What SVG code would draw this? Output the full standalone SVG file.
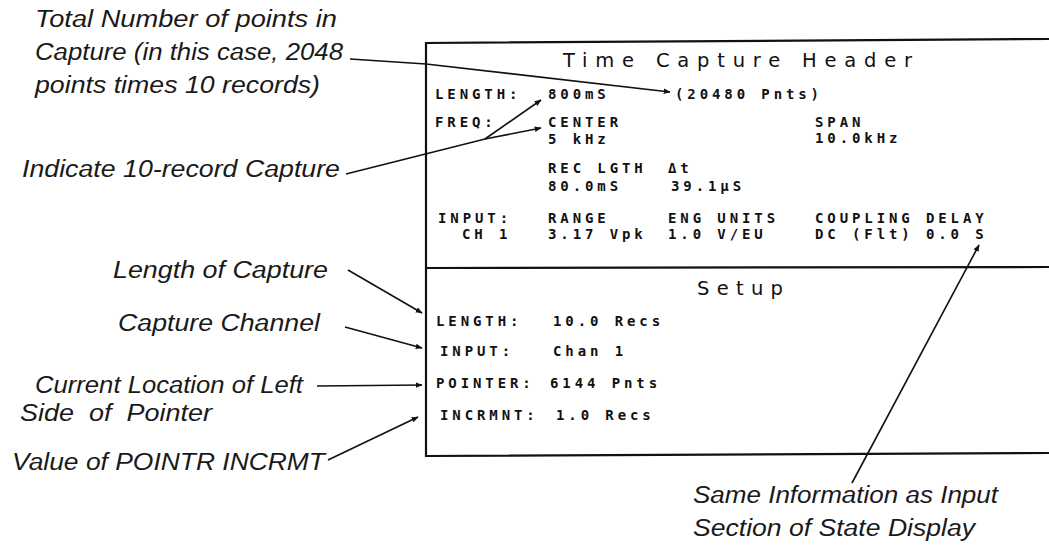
<svg xmlns="http://www.w3.org/2000/svg" width="1049" height="546" viewBox="0 0 1049 546">
<style>
.ann{font-family:"Liberation Sans",Arial,sans-serif;font-style:italic;font-size:23px;fill:#1a1a1a}
.scr{font-family:"DejaVu Sans Mono",monospace;font-size:14px;letter-spacing:3.9px;fill:#111;font-weight:bold}
.ttl{font-family:"DejaVu Sans",sans-serif;font-size:19.5px;fill:#111}
.frame{stroke:#111;stroke-width:2.2;fill:none}
.lead{stroke:#111;stroke-width:1.6;fill:none}
</style>
<defs>
<marker id="ah" viewBox="0 0 10 10" refX="9" refY="5" markerWidth="7" markerHeight="7" markerUnits="userSpaceOnUse" orient="auto">
<path d="M0,1 L10,5 L0,9 z" fill="#111"/>
</marker>
</defs>
<rect width="1049" height="546" fill="#fff"/>

<g id="screen">
<path class="frame" d="M1049,39 L426,43 L426,456 L1049,453"/>
<path class="frame" d="M426,268 L1049,267"/>
</g>

<g id="header">
<text class="ttl" x="563" y="67" textLength="349" lengthAdjust="spacing">Time Capture Header</text>
<text class="scr" x="435" y="99">LENGTH:</text>
<text class="scr" x="548" y="99">800mS</text>
<text class="scr" x="675" y="99">(20480 Pnts)</text>
<text class="scr" x="435" y="127">FREQ:</text>
<text class="scr" x="548" y="127">CENTER</text>
<text class="scr" x="548" y="144">5 kHz</text>
<text class="scr" x="815" y="127">SPAN</text>
<text class="scr" x="815" y="143">10.0kHz</text>
<text class="scr" x="548" y="173">REC LGTH</text>
<text class="scr" x="668" y="173">Δt</text>
<text class="scr" x="548" y="191">80.0mS</text>
<text class="scr" x="671" y="191">39.1µS</text>
<text class="scr" x="438" y="223">INPUT:</text>
<text class="scr" x="548" y="223">RANGE</text>
<text class="scr" x="668" y="223">ENG UNITS</text>
<text class="scr" x="815" y="223">COUPLING DELAY</text>
<text class="scr" x="462" y="239">CH 1</text>
<text class="scr" x="548" y="239">3.17 Vpk</text>
<text class="scr" x="668" y="239">1.0 V/EU</text>
<text class="scr" x="815" y="239">DC (Flt) 0.0 S</text>
</g>

<g id="setup">
<text class="ttl" x="697" y="295" textLength="86" lengthAdjust="spacing">Setup</text>
<text class="scr" x="436" y="326">LENGTH:</text>
<text class="scr" x="553" y="326">10.0 Recs</text>
<text class="scr" x="440" y="356">INPUT:</text>
<text class="scr" x="553" y="356">Chan 1</text>
<text class="scr" x="436" y="388">POINTER:</text>
<text class="scr" x="550" y="388">6144 Pnts</text>
<text class="scr" x="440" y="420">INCRMNT:</text>
<text class="scr" x="556" y="420">1.0 Recs</text>
</g>

<g id="annotations">
<text class="ann" x="35" y="27" textLength="302" lengthAdjust="spacingAndGlyphs">Total Number of points in</text>
<text class="ann" x="35" y="60" textLength="308" lengthAdjust="spacingAndGlyphs">Capture (in this case, 2048</text>
<text class="ann" x="35" y="93" textLength="285" lengthAdjust="spacingAndGlyphs">points times 10 records)</text>
<text class="ann" x="22" y="177" textLength="318" lengthAdjust="spacingAndGlyphs">Indicate 10-record Capture</text>
<text class="ann" x="113" y="278" textLength="215" lengthAdjust="spacingAndGlyphs">Length of Capture</text>
<text class="ann" x="118" y="331" textLength="202" lengthAdjust="spacingAndGlyphs">Capture Channel</text>
<text class="ann" x="35" y="393" textLength="268" lengthAdjust="spacingAndGlyphs">Current Location of Left</text>
<text class="ann" x="20" y="421" textLength="192" lengthAdjust="spacingAndGlyphs" xml:space="preserve">Side  of  Pointer</text>
<text class="ann" x="12" y="470" textLength="313" lengthAdjust="spacingAndGlyphs">Value of POINTR INCRMT</text>
<text class="ann" x="693" y="503" textLength="305" lengthAdjust="spacingAndGlyphs">Same Information as Input</text>
<text class="ann" x="693" y="536" textLength="282" lengthAdjust="spacingAndGlyphs">Section of State Display</text>
</g>

<g id="connectors">
<path class="lead" d="M350,59 L426,64 L670,92" marker-end="url(#ah)"/>
<path class="lead" d="M346,174 L485,139 L541,128" marker-end="url(#ah)"/>
<path class="lead" d="M485,139 L541,100" marker-end="url(#ah)"/>
<path class="lead" d="M348,270 L422,313" marker-end="url(#ah)"/>
<path class="lead" d="M345,327 L422,348" marker-end="url(#ah)"/>
<path class="lead" d="M317,386 L422,385" marker-end="url(#ah)"/>
<path class="lead" d="M328,460 L418,417" marker-end="url(#ah)"/>
<path class="lead" d="M852,483 L979,245" marker-end="url(#ah)"/>
</g>
</svg>
